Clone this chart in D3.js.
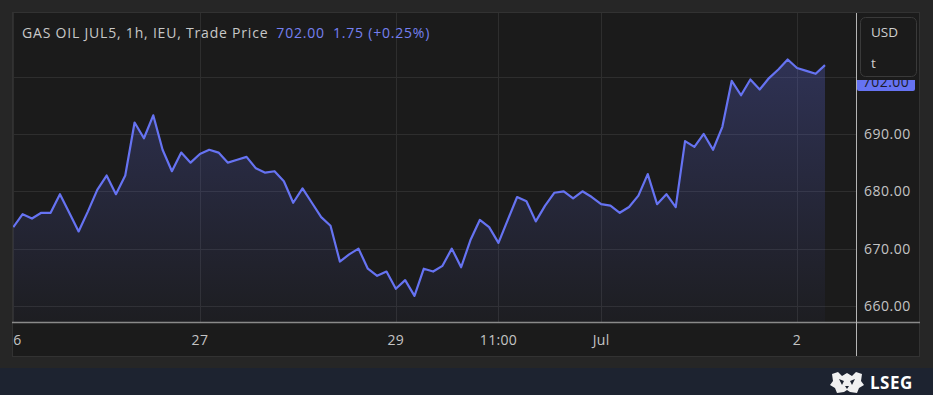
<!DOCTYPE html>
<html>
<head>
<meta charset="utf-8">
<script src="https://cdn.jsdelivr.net/npm/d3@7"></script>
<style>
  body { margin: 0; background: #262626; overflow: hidden; }
  svg { display: block; font-family: "Open Sans", sans-serif; }
</style>
</head>
<body>
<div id="chart"></div>
<script>
let w = 933;
let h = 395;

// hourly trade prices, one per bar (gaps between sessions are skipped)
let prices = [
  673.75, 676.0, 675.25, 676.25, 676.25, 679.5, 676.25, 673.0, 676.5, 680.25,
  682.75, 679.5, 682.75, 692.0, 689.25, 693.25, 687.25, 683.5, 686.75, 685.0,
  686.5, 687.25, 686.75, 685.0, 685.5, 686.0, 684.0, 683.25, 683.5, 681.75,
  678.0, 680.5, 678.0, 675.5, 674.0, 667.75, 669.0, 670.0, 666.5, 665.25,
  666.0, 663.0, 664.5, 661.75, 666.5, 666.0, 667.0, 670.0, 666.75, 671.5,
  675.0, 673.75, 671.0, 675.0, 679.0, 678.25, 674.75, 677.5, 679.75, 680.0,
  678.75, 680.0, 679.0, 677.75, 677.5, 676.25, 677.25, 679.25, 683.0, 677.75,
  679.5, 677.25, 688.75, 687.75, 690.0, 687.25, 691.25, 699.25, 696.75, 699.5,
  697.75, 699.75, 701.25, 703.0, 701.5, 701.0, 700.5, 702.0
];
let tickIdx = [0, 20, 41, 52, 63, 84];
let tickLabels = ["26", "27", "29", "11:00", "Jul", "2"];
let yTicks = [660, 670, 680, 690, 700];

let title = "GAS OIL JUL5, 1h, IEU, Trade Price";
let lastPrice = "702.00";
let change = "1.75 (+0.25%)";

let pLeft = 13, pRight = 856, pTop = 13, pBottom = 322;

let svg = d3.select("#chart").append("svg")
  .attr("width", w)
  .attr("height", h);

// panel and footer
svg.append("rect").attr("x", 12.5).attr("y", 12.5).attr("width", 907).attr("height", 344)
  .attr("fill", "#1b1b1b").attr("stroke", "#323232");
svg.append("rect").attr("x", 0).attr("y", 368).attr("width", w).attr("height", h - 368)
  .attr("fill", "#1d2330");

let xScale = d3.scaleLinear().domain([0, prices.length - 1]).range([13.3, 825]);
let yScale = d3.scaleLinear().domain([657.2, 711.1]).range([pBottom, pTop]);

let plot = svg.append("g");
plot.append("clipPath").attr("id", "clip")
  .append("rect").attr("x", pLeft).attr("y", pTop).attr("width", pRight - pLeft).attr("height", pBottom - pTop);

// grid
let grid = plot.append("g").attr("clip-path", "url(#clip)");
grid.selectAll(".hgrid").data(yTicks).enter().append("line")
  .attr("x1", pLeft).attr("x2", pRight)
  .attr("y1", d => Math.round(yScale(d)) + 0.5).attr("y2", d => Math.round(yScale(d)) + 0.5)
  .attr("stroke", "#2e2e2e");
grid.selectAll(".vgrid").data(tickIdx).enter().append("line")
  .attr("x1", d => Math.round(xScale(d)) + 0.5).attr("x2", d => Math.round(xScale(d)) + 0.5)
  .attr("y1", pTop).attr("y2", pBottom)
  .attr("stroke", "#2e2e2e");

// area + line
let defs = svg.append("defs");
let grad = defs.append("linearGradient").attr("id", "fillGrad")
  .attr("x1", 0).attr("x2", 0).attr("y1", 0).attr("y2", 1);
grad.append("stop").attr("offset", "0%").attr("stop-color", "#6470f0").attr("stop-opacity", 0.27);
grad.append("stop").attr("offset", "100%").attr("stop-color", "#6470f0").attr("stop-opacity", 0.03);

let area = d3.area()
  .x((d, i) => xScale(i))
  .y0(pBottom)
  .y1(d => yScale(d));
let line = d3.line()
  .x((d, i) => xScale(i))
  .y(d => yScale(d));

grid.append("path").datum(prices)
  .attr("d", area)
  .attr("fill", "url(#fillGrad)");
grid.append("path").datum(prices)
  .attr("d", line)
  .attr("fill", "none")
  .attr("stroke", "#6673f2")
  .attr("stroke-width", 2.2)
  .attr("stroke-linejoin", "round");

// axis lines
svg.append("line").attr("x1", 12).attr("x2", 920).attr("y1", 322.5).attr("y2", 322.5)
  .attr("stroke", "#8a8a8a").attr("stroke-width", 1.5);
svg.append("line").attr("x1", 856.5).attr("x2", 856.5).attr("y1", 13).attr("y2", 356)
  .attr("stroke", "#b5b5b5").attr("stroke-width", 1);

// x labels
let xl = svg.append("g");
xl.append("clipPath").attr("id", "clipx")
  .append("rect").attr("x", 13).attr("y", 323).attr("width", 843).attr("height", 33);
xl.append("g").attr("clip-path", "url(#clipx)")
  .selectAll("text").data(tickIdx).enter().append("text")
  .attr("x", d => xScale(d))
  .attr("y", 345)
  .attr("text-anchor", "middle")
  .attr("fill", "#c4c4c4")
  .attr("font-size", 14)
  .attr("letter-spacing", 0.3)
  .text((d, i) => tickLabels[i]);

// y labels
svg.append("g").selectAll("text").data(yTicks.filter(d => d < 700)).enter().append("text")
  .attr("x", 864)
  .attr("y", d => yScale(d) + 5)
  .attr("fill", "#c4c4c4")
  .attr("font-size", 14)
  .attr("letter-spacing", 0.5)
  .text(d => d3.format(".2f")(d));

// last price label (mostly tucked under the unit box)
svg.append("rect").attr("x", 857).attr("y", 70).attr("width", 58).attr("height", 21)
  .attr("rx", 2).attr("fill", "#6673f2");
svg.append("text").attr("x", 886).attr("y", 86.5).attr("text-anchor", "middle")
  .attr("fill", "#1b1b2a").attr("font-size", 14).attr("letter-spacing", 0.5).text(lastPrice);
svg.append("rect").attr("x", 857).attr("y", 13).attr("width", 62).attr("height", 67)
  .attr("fill", "#1b1b1b");

// currency / unit box
svg.append("rect").attr("x", 860.5).attr("y", 17.5).attr("width", 56).attr("height", 59)
  .attr("rx", 5).attr("fill", "#1b1b1b").attr("stroke", "#3a3a3a");
svg.append("text").attr("x", 871).attr("y", 37).attr("fill", "#cfcfcf").attr("font-size", 13.5).text("USD");
svg.append("text").attr("x", 871).attr("y", 68).attr("fill", "#cfcfcf").attr("font-size", 13.5).text("t");

// title
let t = svg.append("text").attr("x", 22).attr("y", 38).attr("font-size", 14).attr("letter-spacing", 0.8);
t.append("tspan").attr("fill", "#c8c8c8").text(title);
t.append("tspan").attr("fill", "#7580f0").attr("dx", 8).text(lastPrice);
t.append("tspan").attr("fill", "#7580f0").attr("dx", 8).text(change);

// footer brand
let logo = svg.append("g").attr("transform", "translate(830,372)");
logo.append("path")
  .attr("d", "M2,2 L8,0 L12,4 L17,1 L22,4 L26,0 L32,2 L31,9 L34,13 L29,16 L27,21 L20,20 L17,18 L14,20 L7,21 L5,16 L0,13 L3,9 Z")
  .attr("fill", "#f0f0f0");
logo.append("path")
  .attr("d", "M9,7 L14,9 L12,13 Z M25,7 L20,9 L22,13 Z M15,14 L19,14 L17,17 Z")
  .attr("fill", "#1d2330");
svg.append("text").attr("x", 870).attr("y", 389).attr("fill", "#ffffff")
  .attr("font-size", 17).attr("font-weight", "bold").attr("letter-spacing", 0.5).text("LSEG");
</script>
</body>
</html>
